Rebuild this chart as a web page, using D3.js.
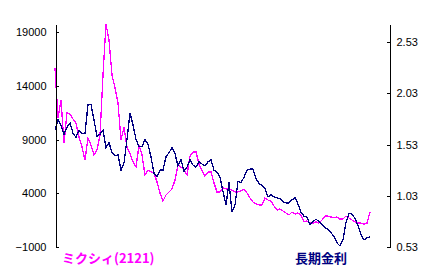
<!DOCTYPE html>
<html>
<head>
<meta charset="utf-8">
<script src="https://cdn.jsdelivr.net/npm/d3@7"></script>
<style>
  html, body { margin: 0; padding: 0; background: #fff; }
  svg { display: block; }
  .axis text { font-family: "Liberation Sans", Arial, sans-serif; font-size: 11px; fill: #000; }
  .axis path, .axis line { stroke: #000; shape-rendering: crispEdges; }
  .series { fill: none; stroke-width: 1.3; shape-rendering: crispEdges; }
  .legend { font-family: "Noto Sans CJK JP", sans-serif; font-size: 13px; font-weight: bold; }
</style>
</head>
<body>
<div id="chart"></div>
<script>
// ミクシィ(2121) share price, left axis
const mixi = [
  15650, 11000, 12670, 8670, 11470, 11370, 10910, 10530, 9230, 8300,
  7090, 9140, 8490, 7560, 8020, 9420, 15000, 19740, 18250, 15000,
  13790, 12400, 8950, 10160, 8300, 7740, 6910, 6440, 8470, 7560,
  5700, 6160, 5980, 5880, 5050, 4020, 3280, 3840, 4120, 4400,
  5230, 6630, 6440, 6160, 5700, 7470, 7840, 7840, 6720, 6160,
  5600, 5980, 5980, 4950, 4120, 4120, 4490, 4400, 4400, 4300,
  4120, 4120, 4210, 4400, 4020, 3560, 3190, 3000, 2910, 2910,
  3560, 3370, 3280, 2810, 2440, 2540, 2350, 2160, 1980, 2260,
  2070, 2160, 1930, 1330, 1420, 1230, 1230, 1330, 1230, 1510,
  1880, 1880, 1790, 1700, 1790, 1600, 1600, 1880, 1700, 1510,
  1330, 1230, 1230, 1140, 1230, 2260
];

// 長期金利 (long-term interest rate), right axis
const rate = [
  1.67, 1.77, 1.72, 1.63, 1.70, 1.74, 1.64, 1.60, 1.67, 1.64,
  1.64, 1.92, 1.92, 1.77, 1.61, 1.63, 1.67, 1.50, 1.55, 1.45,
  1.42, 1.43, 1.28, 1.35, 1.58, 1.84, 1.72, 1.58, 1.51, 1.51,
  1.58, 1.53, 1.41, 1.25, 1.22, 1.28, 1.28, 1.41, 1.45, 1.50,
  1.44, 1.32, 1.38, 1.27, 1.31, 1.38, 1.33, 1.31, 1.36, 1.34,
  1.32, 1.36, 1.38, 1.28, 1.26, 1.21, 1.07, 0.94, 1.16, 0.87,
  0.94, 1.17, 1.16, 1.21, 1.28, 1.29, 1.29, 1.20, 1.15, 1.13,
  1.10, 1.02, 1.04, 1.02, 1.01, 1.00, 0.97, 0.96, 0.96, 0.99,
  1.01, 0.95, 0.87, 0.83, 0.82, 0.75, 0.78, 0.80, 0.78, 0.75,
  0.72, 0.70, 0.67, 0.63, 0.57, 0.54, 0.60, 0.77, 0.86, 0.85,
  0.81, 0.74, 0.65, 0.60, 0.62, 0.63
];

const leftTicks = [-1000, 4000, 9000, 14000, 19000];
const rightTicks = [0.53, 1.03, 1.53, 2.03, 2.53];
const seriesNames = ['ミクシィ(2121)', '長期金利'];

const width = 433, height = 272;
const plot = { left: 55, right: 389, top: 24, bottom: 247, lineEnd: 370 };

const svg = d3.select('#chart')
  .append('svg')
  .attr('width', width)
  .attr('height', height);

const x = d3.scaleLinear()
  .domain([0, mixi.length - 1])
  .range([plot.left, plot.lineEnd]);

const yLeft = d3.scaleLinear()
  .domain([-1000, 19750])
  .range([plot.bottom, plot.top]);

const yRight = d3.scaleLinear()
  .domain([0.53, 2.706])
  .range([plot.bottom, plot.top]);

// series lines
const lineLeft = d3.line().x((d, i) => x(i)).y(d => yLeft(d));
const lineRight = d3.line().x((d, i) => x(i)).y(d => yRight(d));

svg.append('path')
  .datum(mixi)
  .attr('class', 'series')
  .attr('d', lineLeft)
  .attr('stroke', '#ff00ff');

svg.append('path')
  .datum(rate)
  .attr('class', 'series')
  .attr('d', lineRight)
  .attr('stroke', '#000080');

// left axis
svg.append('g')
  .attr('class', 'axis')
  .attr('transform', `translate(${plot.left + 0.5},0)`)
  .call(d3.axisLeft(yLeft)
    .tickValues(leftTicks)
    .tickFormat(d3.format('d'))
    .tickSizeInner(-3)
    .tickSizeOuter(0)
    .tickPadding(9));

// right axis
svg.append('g')
  .attr('class', 'axis')
  .attr('transform', `translate(${plot.right + 0.5},0)`)
  .call(d3.axisRight(yRight)
    .tickValues(rightTicks)
    .tickFormat(d3.format('.2f'))
    .tickSizeInner(-3)
    .tickSizeOuter(0)
    .tickPadding(7));

// legend labels under the plot
svg.append('text')
  .attr('class', 'legend')
  .attr('x', 62)
  .attr('y', 263)
  .attr('fill', '#ff00ff')
  .text(seriesNames[0]);

svg.append('text')
  .attr('class', 'legend')
  .attr('x', 295)
  .attr('y', 263)
  .attr('fill', '#000080')
  .text(seriesNames[1]);
</script>
</body>
</html>
